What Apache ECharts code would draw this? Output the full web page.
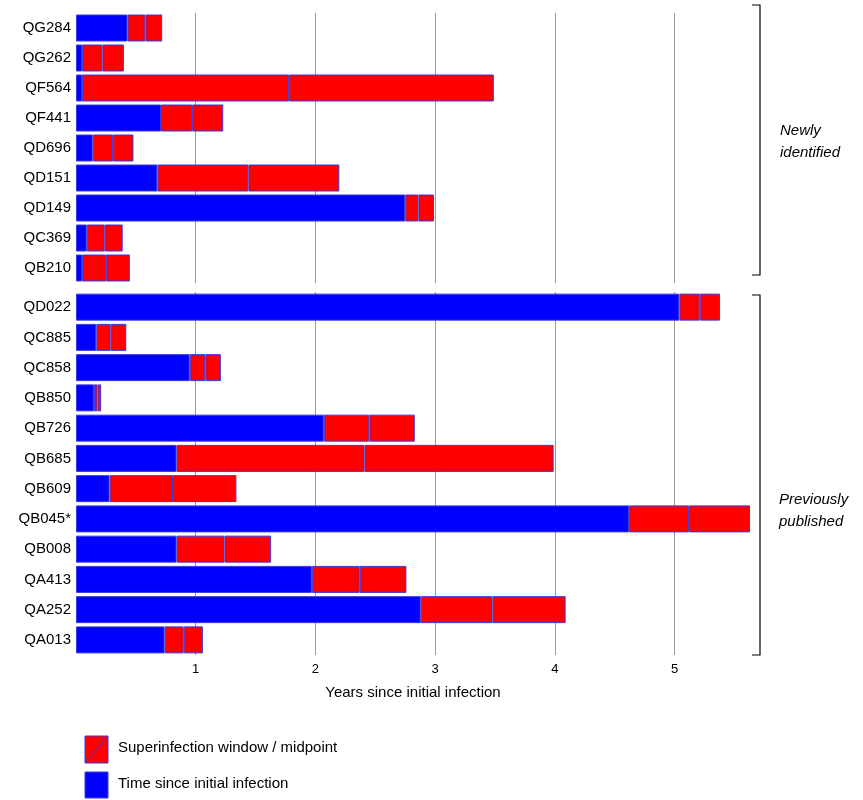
<!DOCTYPE html>
<html>
<head>
<meta charset="utf-8">
<script src="https://cdn.jsdelivr.net/npm/echarts@6/dist/echarts.min.js"></script>
<style>html,body{margin:0;padding:0;background:#fff}#chart{width:863px;height:800px}</style>
</head>
<body>
<div id="chart"></div>
<script>
// 数据：样本名、初始感染时间、窗口中点、窗口结束
const samples = ['QG284','QG262','QF564','QF441','QD696','QD151','QD149','QC369','QB210','QD022','QC885','QC858','QB850','QB726','QB685','QB609','QB045*','QB008','QA413','QA252','QA013']
const windowStart = [0.43,0.05,0.05,0.71,0.14,0.68,2.75,0.09,0.05,5.04,0.17,0.95,0.15,2.07,0.84,0.28,4.62,0.84,1.97,2.88,0.74]
const windowMid = [0.58,0.22,1.78,0.97,0.31,1.44,2.86,0.24,0.25,5.21,0.29,1.08,0.18,2.45,2.41,0.81,5.12,1.24,2.37,3.48,0.90]
const windowEnd = [0.72,0.40,3.49,1.23,0.48,2.20,2.99,0.39,0.45,5.38,0.42,1.21,0.21,2.83,3.99,1.34,5.63,1.63,2.76,4.09,1.06]
const xTicks = [1,2,3,4,5]
const newCount = 9 // 前9个为新识别

const font = 'Liberation Sans, Arial, sans-serif'
const border = { borderColor: '#3a3adf', borderWidth: 1 }

const groups = [[0, newCount], [newCount, samples.length]]

const xAxisBase = (idx) => ({
  type: 'value', gridIndex: idx, min: 0, max: 5.63, interval: 1,
  axisLine: { show: false },
  axisTick: { show: false },
  splitLine: { showMinLine: false, showMaxLine: false, lineStyle: { color: '#999', width: 1 } },
  axisLabel: idx === 1 ? {
    color: '#000', fontFamily: font, fontSize: 13,
    formatter: v => xTicks.includes(v) ? String(v) : ''
  } : { show: false },
  name: idx === 1 ? 'Years since initial infection' : '',
  nameLocation: 'middle',
  nameGap: 30,
  nameTextStyle: { color: '#000', fontFamily: font, fontSize: 15 }
})

const series = []
groups.forEach(([a, b], g) => {
  const s = windowStart.slice(a, b)
  const m = windowMid.slice(a, b)
  const e = windowEnd.slice(a, b)
  series.push(
    { type: 'bar', stack: 's' + g, barWidth: 27, xAxisIndex: g, yAxisIndex: g, itemStyle: { color: '#0000ff', ...border }, data: s },
    { type: 'bar', stack: 's' + g, barWidth: 27, xAxisIndex: g, yAxisIndex: g, itemStyle: { color: '#ff0000', ...border }, data: m.map((v, i) => +(v - s[i]).toFixed(3)) },
    { type: 'bar', stack: 's' + g, barWidth: 27, xAxisIndex: g, yAxisIndex: g, itemStyle: { color: '#ff0000', ...border }, data: e.map((v, i) => +(v - m[i]).toFixed(3)) }
  )
})

var myChart = echarts.init(document.querySelector('#chart'))
const option = {
  animation: false,
  grid: [
    { left: 76, right: 113, top: 13, height: 270 },
    { left: 76, right: 113, top: 292, bottom: 145 }
  ],
  xAxis: [xAxisBase(0), xAxisBase(1)],
  yAxis: groups.map(([a, b], g) => ({
    type: 'category', gridIndex: g, inverse: true,
    data: samples.slice(a, b),
    axisLine: { show: false },
    axisTick: { show: false },
    axisLabel: { color: '#000', fontFamily: font, fontSize: 15, margin: 5 }
  })),
  series,
  graphic: [
    // 右侧括号
    { type: 'polyline', shape: { points: [[752, 5], [760, 5], [760, 275], [752, 275]] }, style: { stroke: '#000', lineWidth: 1.2, fill: null } },
    { type: 'polyline', shape: { points: [[752, 295], [760, 295], [760, 655], [752, 655]] }, style: { stroke: '#000', lineWidth: 1.2, fill: null } },
    { type: 'text', left: 780, top: 120, style: { text: 'Newly\nidentified', font: 'italic 15px ' + font, fill: '#000', lineHeight: 22 } },
    { type: 'text', left: 779, top: 489, style: { text: 'Previously\npublished', font: 'italic 15px ' + font, fill: '#000', lineHeight: 22 } },
    // 图例
    { type: 'rect', shape: { x: 85, y: 736, width: 23, height: 27 }, style: { fill: '#ff0000', stroke: '#3a3adf', lineWidth: 1 } },
    { type: 'line', shape: { x1: 85, y1: 763, x2: 108, y2: 736 }, style: { stroke: '#3a3adf', lineWidth: 1 } },
    { type: 'text', left: 118, top: 740, style: { text: 'Superinfection window / midpoint', font: '15px ' + font, fill: '#000' } },
    { type: 'rect', shape: { x: 85, y: 772, width: 23, height: 26 }, style: { fill: '#0000ff', stroke: '#3a3adf', lineWidth: 1 } },
    { type: 'text', left: 118, top: 776, style: { text: 'Time since initial infection', font: '15px ' + font, fill: '#000' } }
  ]
}
myChart.setOption(option)
</script>
</body>
</html>
